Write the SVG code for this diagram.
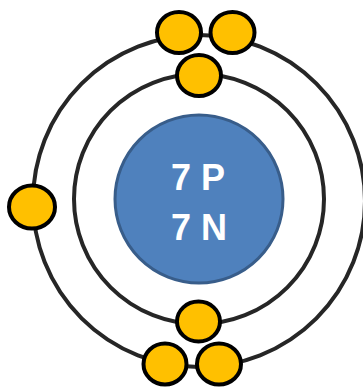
<svg xmlns="http://www.w3.org/2000/svg" width="363" height="387" viewBox="0 0 363 387">
<style>
.orbit{fill:none;stroke:#262626;stroke-width:4}
.e{fill:#FFC000;stroke:#000;stroke-width:4}
.lbl{font-family:"Liberation Sans",Arial,sans-serif;font-weight:bold;font-size:36px;fill:#fff;text-anchor:middle}
</style>
<rect width="363" height="387" fill="#fff"/>
<g id="connectors">
<circle id="outer-shell" class="orbit" cx="199" cy="201" r="166"/>
<circle id="inner-shell" class="orbit" cx="199" cy="199" r="125"/>
</g>
<g id="nucleus">
<circle cx="199" cy="199" r="84" fill="#4F81BD" stroke="#385D8A" stroke-width="3"/>
<text class="lbl" x="198" y="190">7 P</text>
<text class="lbl" x="199" y="240">7 N</text>
</g>
<g id="e1"><ellipse class="e" cx="179" cy="32.5" rx="22" ry="20.5"/></g>
<g id="e2"><ellipse class="e" cx="232.5" cy="32.5" rx="22" ry="20.5"/></g>
<g id="e3"><ellipse class="e" cx="199" cy="75.5" rx="22" ry="20.5"/></g>
<g id="e4"><ellipse class="e" cx="32" cy="207" rx="23" ry="21.5"/></g>
<g id="e5"><ellipse class="e" cx="198.5" cy="321.5" rx="21.5" ry="20"/></g>
<g id="e6"><ellipse class="e" cx="165" cy="364" rx="21.5" ry="20.5"/></g>
<g id="e7"><ellipse class="e" cx="219" cy="364" rx="22" ry="20.5"/></g>
</svg>
